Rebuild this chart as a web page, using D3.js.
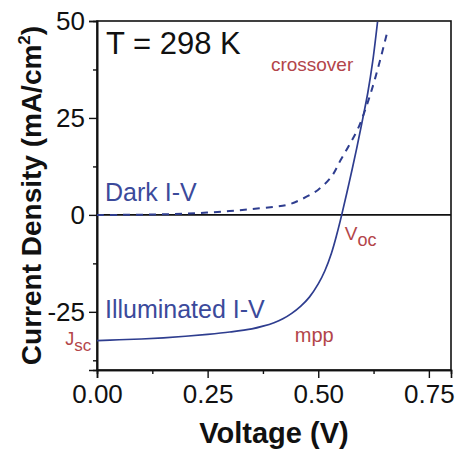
<!DOCTYPE html>
<html>
<head>
<meta charset="utf-8">
<script src="https://cdn.jsdelivr.net/npm/d3@7"></script>
<style>
  body { margin: 0; background: #fff; }
  text { font-family: "Liberation Sans", Arial, sans-serif; }
</style>
</head>
<body>
<div id="chart"></div>
<script>
const width = 457;
const height = 455;

// 暗态 I-V (虚线)
const darkV = [0, 0.05, 0.1, 0.15, 0.2, 0.25, 0.3, 0.35, 0.4, 0.43, 0.46, 0.5, 0.53, 0.55, 0.57, 0.59, 0.615, 0.637, 0.656];
const darkJ = [0, 0, 0.05, 0.15, 0.3, 0.6, 1.0, 1.5, 2.1, 2.6, 3.9, 6.5, 9.9, 14.0, 18.0, 22.3, 30.1, 38.7, 47.2];

// 光照 I-V (实线)
const lightV = [0, 0.05, 0.1, 0.15, 0.2, 0.25, 0.3, 0.35, 0.375, 0.4, 0.42, 0.44, 0.46, 0.48, 0.5, 0.515, 0.53, 0.542, 0.553, 0.57, 0.587, 0.6, 0.612, 0.623, 0.634];
const lightJ = [-32.4, -32.2, -32.0, -31.7, -31.3, -30.8, -30.2, -29.4, -28.7, -27.8, -26.8, -25.4, -23.6, -21.2, -17.8, -14.4, -9.8, -5.0, 0, 8.4, 17.2, 24.5, 31.5, 39.5, 49.8];

// 刻度
const xTicks = [0, 0.25, 0.5, 0.75];
const xMinor = [0.125, 0.375, 0.625];
const yTicks = [-25, 0, 25, 50];
const yMinor = [-37.5, -12.5, 12.5, 37.5];

// 标注
const notes = [
  { text: "T = 298 K", v: 0.0203, j: 41.5, color: "#111", size: 31 },
  { text: "crossover", v: 0.393, j: 37.1, color: "#b3454a", size: 19 },
  { text: "Dark I-V", v: 0.018, j: 3.5, color: "#3b4a9b", size: 25 },
  { text: "Illuminated I-V", v: 0.018, j: -26.6, color: "#3b4a9b", size: 25 },
  { text: "mpp", v: 0.447, j: -32.8, color: "#b3454a", size: 20 }
];
const subNotes = [
  { main: "V", sub: "oc", v: 0.560, j: -6.5, color: "#b3454a", size: 19 },
  { main: "J", sub: "sc", v: -0.072, j: -33.5, color: "#b3454a", size: 18 }
];

const margin = { top: 21, right: 6, bottom: 85, left: 97 };
const iw = width - margin.left - margin.right;
const ih = height - margin.top - margin.bottom;

const svg = d3.select("#chart")
  .append("svg")
  .attr("width", width)
  .attr("height", height);

const g = svg.append("g").attr("transform", `translate(${margin.left},${margin.top})`);

const x = d3.scaleLinear().domain([0, 0.8]).range([0, iw]);
const y = d3.scaleLinear().domain([-40, 50]).range([ih, 0]);

// 边框
g.append("rect")
  .attr("width", iw).attr("height", ih)
  .attr("fill", "none").attr("stroke", "#111").attr("stroke-width", 1.6);

// 零线
g.append("line")
  .attr("x1", 0).attr("x2", iw)
  .attr("y1", y(0)).attr("y2", y(0))
  .attr("stroke", "#111").attr("stroke-width", 1.6);

// 坐标轴
g.append("g")
  .attr("transform", `translate(0,${ih})`)
  .call(d3.axisBottom(x).tickValues(xTicks).tickSize(8).tickPadding(7).tickFormat(d3.format(".2f")));
g.append("g")
  .attr("transform", `translate(0,${ih})`)
  .call(d3.axisBottom(x).tickValues(xMinor).tickSize(4).tickFormat(""));

g.append("g")
  .call(d3.axisLeft(y).tickValues(yTicks).tickSize(8).tickPadding(4).tickFormat(d => String(d)));
g.append("g")
  .call(d3.axisLeft(y).tickValues(yMinor).tickSize(4).tickFormat(""));

g.selectAll(".domain").attr("stroke", "#111").attr("stroke-width", 1.6);
g.selectAll(".tick line").attr("stroke", "#111").attr("stroke-width", 1.4);
g.selectAll(".tick text")
  .attr("fill", "#111")
  .style("font-family", "Liberation Sans, Arial, sans-serif")
  .style("font-size", "26px");

// 曲线
const line = d3.line()
  .x(d => x(d[0]))
  .y(d => y(d[1]))
  .curve(d3.curveCatmullRom.alpha(0.5));

g.append("path")
  .datum(darkV.map((v, i) => [v, darkJ[i]]))
  .attr("fill", "none")
  .attr("stroke", "#2e3d8f")
  .attr("stroke-width", 2)
  .attr("stroke-dasharray", "7,6")
  .attr("d", line);

g.append("path")
  .datum(lightV.map((v, i) => [v, lightJ[i]]))
  .attr("fill", "none")
  .attr("stroke", "#2e3d8f")
  .attr("stroke-width", 1.7)
  .attr("d", line);

// 标注文字
g.selectAll("text.note")
  .data(notes)
  .enter()
  .append("text")
  .attr("class", "note")
  .attr("x", d => x(d.v))
  .attr("y", d => y(d.j))
  .attr("fill", d => d.color)
  .style("font-size", d => d.size + "px")
  .text(d => d.text);

subNotes.forEach(d => {
  const t = g.append("text")
    .attr("x", x(d.v))
    .attr("y", y(d.j))
    .attr("fill", d.color)
    .style("font-size", d.size + "px");
  t.append("tspan").text(d.main);
  t.append("tspan").attr("dy", 6).style("font-size", (d.size - 1) + "px").text(d.sub);
});

// 轴标题
svg.append("text")
  .attr("x", margin.left + iw / 2)
  .attr("y", 443)
  .attr("text-anchor", "middle")
  .style("font-size", "29px")
  .style("font-weight", "bold")
  .attr("fill", "#111")
  .text("Voltage (V)");

const yl = svg.append("text")
  .attr("transform", `translate(41,${margin.top + ih / 2}) rotate(-90)`)
  .attr("text-anchor", "middle")
  .style("font-size", "28px")
  .style("font-weight", "bold")
  .attr("fill", "#111");
yl.append("tspan").text("Current Density (mA/cm");
yl.append("tspan").attr("dy", -11).style("font-size", "17px").text("2");
yl.append("tspan").attr("dy", 11).text(")");
</script>
</body>
</html>
